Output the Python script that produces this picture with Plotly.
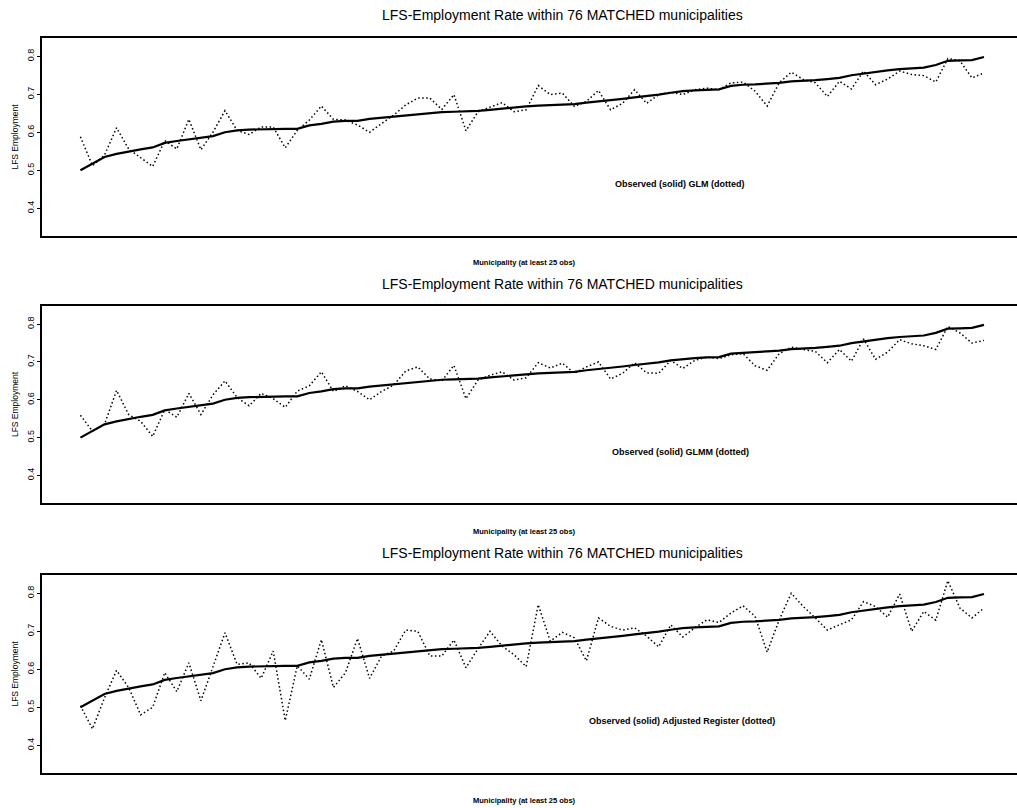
import plotly.graph_objects as go

# Municipalities ordered by observed LFS employment rate (76 matched municipalities)
municipality = list(range(1, 77))

observed = [0.500, 0.517, 0.535, 0.543, 0.550, 0.555, 0.560, 0.572, 0.577, 0.582,
            0.587, 0.590, 0.600, 0.605, 0.607, 0.608, 0.609, 0.609, 0.609, 0.618,
            0.622, 0.628, 0.630, 0.630, 0.635, 0.638, 0.641, 0.645, 0.648, 0.651,
            0.653, 0.654, 0.655, 0.656, 0.659, 0.662, 0.666, 0.668, 0.670, 0.671,
            0.672, 0.674, 0.678, 0.681, 0.685, 0.688, 0.692, 0.695, 0.699, 0.704,
            0.708, 0.710, 0.712, 0.713, 0.722, 0.725, 0.726, 0.728, 0.730, 0.734,
            0.735, 0.737, 0.740, 0.743, 0.750, 0.755, 0.758, 0.763, 0.766, 0.768,
            0.770, 0.777, 0.788, 0.789, 0.790, 0.798]

glm = [0.588, 0.512, 0.540, 0.612, 0.556, 0.534, 0.510, 0.578, 0.556, 0.634,
       0.554, 0.600, 0.657, 0.605, 0.594, 0.614, 0.614, 0.559, 0.605, 0.632,
       0.669, 0.634, 0.632, 0.619, 0.600, 0.623, 0.645, 0.672, 0.690, 0.690,
       0.660, 0.699, 0.604, 0.654, 0.666, 0.678, 0.654, 0.659, 0.723, 0.699,
       0.703, 0.668, 0.681, 0.710, 0.659, 0.676, 0.712, 0.676, 0.699, 0.705,
       0.699, 0.712, 0.716, 0.712, 0.730, 0.732, 0.708, 0.669, 0.730, 0.758,
       0.739, 0.730, 0.694, 0.734, 0.714, 0.761, 0.725, 0.740, 0.761, 0.752,
       0.749, 0.732, 0.794, 0.788, 0.743, 0.756]

glmm = [0.559, 0.517, 0.535, 0.625, 0.561, 0.543, 0.503, 0.574, 0.554, 0.617,
        0.561, 0.613, 0.650, 0.606, 0.584, 0.617, 0.603, 0.580, 0.623, 0.637,
        0.674, 0.622, 0.637, 0.622, 0.600, 0.622, 0.639, 0.676, 0.687, 0.655,
        0.650, 0.691, 0.603, 0.652, 0.665, 0.674, 0.652, 0.658, 0.698, 0.684,
        0.697, 0.670, 0.687, 0.700, 0.655, 0.670, 0.698, 0.671, 0.670, 0.704,
        0.683, 0.704, 0.713, 0.709, 0.719, 0.722, 0.690, 0.678, 0.722, 0.739,
        0.733, 0.728, 0.698, 0.733, 0.702, 0.761, 0.707, 0.726, 0.759, 0.748,
        0.743, 0.733, 0.794, 0.777, 0.750, 0.757]

adj_register = [0.504, 0.443, 0.525, 0.597, 0.552, 0.480, 0.500, 0.591, 0.541, 0.617,
                0.517, 0.609, 0.696, 0.613, 0.617, 0.576, 0.648, 0.465, 0.609, 0.574,
                0.678, 0.552, 0.591, 0.681, 0.576, 0.635, 0.648, 0.703, 0.700, 0.635,
                0.635, 0.677, 0.604, 0.654, 0.700, 0.661, 0.638, 0.607, 0.770, 0.674,
                0.697, 0.683, 0.622, 0.735, 0.713, 0.703, 0.709, 0.687, 0.659, 0.717,
                0.685, 0.709, 0.730, 0.723, 0.748, 0.767, 0.739, 0.645, 0.730, 0.800,
                0.765, 0.735, 0.703, 0.717, 0.730, 0.778, 0.765, 0.737, 0.798, 0.700,
                0.752, 0.729, 0.833, 0.761, 0.735, 0.761]

y_ticks = [0.4, 0.5, 0.6, 0.7, 0.8]
y_tick_text = ["0.4", "0.5", "0.6", "0.7", "0.8"]

title_text = "LFS-Employment Rate within 76 MATCHED municipalities"
x_title = "Municipality (at least 25 obs)"
y_title = "LFS Employment"

panels = [
    {"model": glm, "legend": "Observed (solid) GLM (dotted)"},
    {"model": glmm, "legend": "Observed (solid) GLMM (dotted)"},
    {"model": adj_register, "legend": "Observed (solid) Adjusted Register (dotted)"},
]

W, H = 1017, 808
# pixel layout of each panel frame: (top, bottom)
frames = [(38, 236), (306, 503), (575, 773)]
title_y = [15, 284, 553]
xlab_y = [263, 531, 800]
legend_y = [184, 452, 721]
legend_x = [680, 680, 682]
frame_left = 42

FONT = "Liberation Sans, Arial, Helvetica, sans-serif"


def py(px):
    return 1 - px / H


fig = go.Figure()
layout = {}
annotations = []

for k, panel in enumerate(panels):
    n = "" if k == 0 else str(k + 1)
    xa, ya = "x" + n, "y" + n
    top, bottom = frames[k]

    fig.add_trace(go.Scatter(x=municipality, y=observed, mode="lines",
                             line=dict(color="black", width=2.2),
                             xaxis=xa, yaxis=ya, showlegend=False))
    fig.add_trace(go.Scatter(x=municipality, y=panel["model"], mode="lines",
                             line=dict(color="black", width=1.5, dash="1.5px,2.5px"),
                             xaxis=xa, yaxis=ya, showlegend=False))

    layout["xaxis" + n] = dict(
        domain=[frame_left / W, 1], range=[-2.19, 78.74],
        showline=True, mirror=True, linecolor="black", linewidth=1.8,
        showticklabels=False, ticks="", showgrid=False, zeroline=False,
        anchor=ya,
    )
    layout["yaxis" + n] = dict(
        domain=[py(bottom), py(top)], range=[0.327, 0.848],
        tickvals=y_ticks, ticktext=y_tick_text, tickangle=-90,
        ticks="outside", ticklen=3, tickwidth=1, tickcolor="black",
        tickfont=dict(family=FONT, size=9, color="black"),
        showline=True, linecolor="black", linewidth=1.5,
        showgrid=False, zeroline=False, anchor=xa,
        title=dict(text=y_title, font=dict(family=FONT, size=8.5, color="black"),
                   standoff=6),
    )

    annotations.append(dict(text=title_text, x=562 / W, y=py(title_y[k]),
                            xref="paper", yref="paper", showarrow=False,
                            xanchor="center", yanchor="middle",
                            font=dict(family=FONT, size=14, color="black")))
    annotations.append(dict(text="<b>" + x_title + "</b>", x=524 / W, y=py(xlab_y[k]),
                            xref="paper", yref="paper", showarrow=False,
                            xanchor="center", yanchor="middle",
                            font=dict(family=FONT, size=7.5, color="black")))
    annotations.append(dict(text="<b>" + panel["legend"] + "</b>", x=legend_x[k] / W,
                            y=py(legend_y[k]), xref="paper", yref="paper",
                            showarrow=False, xanchor="center", yanchor="middle",
                            font=dict(family=FONT, size=9, color="black")))

fig.update_layout(
    width=W, height=H,
    margin=dict(l=0, r=0, t=0, b=0),
    paper_bgcolor="white", plot_bgcolor="white",
    annotations=annotations,
    **layout,
)

fig.write_html("out.html")
